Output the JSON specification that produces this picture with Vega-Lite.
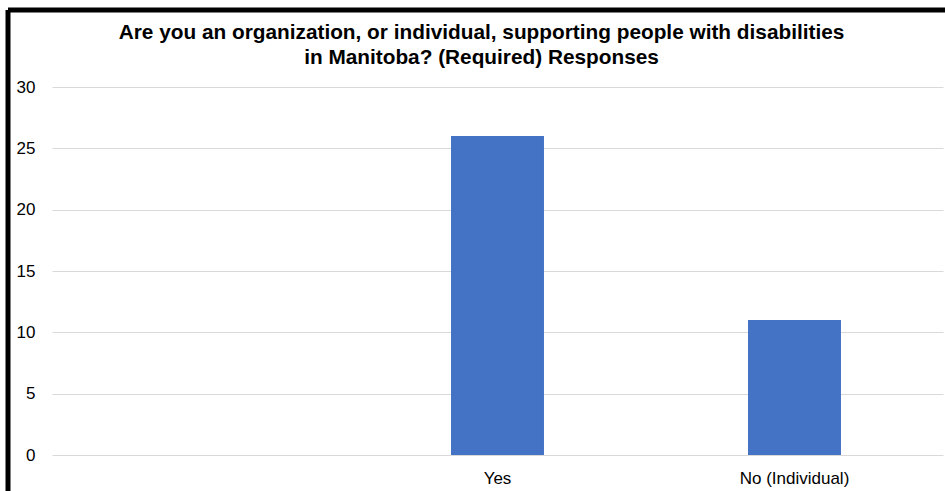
{
  "$schema": "https://vega.github.io/schema/vega-lite/v6.json",
  "width": 937,
  "height": 481,
  "autosize": {"type": "none"},
  "padding": {"left": 8, "top": 10, "right": 0, "bottom": 0},
  "background": "white",
  "title": {
    "text": ["Are you an organization, or individual, supporting people with disabilities", "in Manitoba? (Required) Responses"],
    "font": "Liberation Sans",
    "fontSize": 20.8,
    "fontWeight": "bold",
    "color": "black",
    "lineHeight": 25,
    "anchor": "middle",
    "offset": -59,
    "dx": 5
  },
  "data": {
    "values": [
      {"response": "", "count": 0},
      {"response": "Yes", "count": 26},
      {"response": "No (Individual)", "count": 11}
    ]
  },
  "mark": {"type": "bar", "color": "#4472C4"},
  "encoding": {
    "x": {
      "field": "response",
      "type": "nominal",
      "sort": null,
      "scale": {"range": [44, 935], "paddingInner": 0.687, "paddingOuter": 0.3435},
      "axis": {
        "title": null,
        "labelAngle": 0,
        "domain": false,
        "ticks": false,
        "tickSize": 0,
        "grid": false,
        "labelPadding": -8,
        "labelBaseline": "alphabetic",
        "labelFont": "Liberation Sans",
        "labelFontSize": 17,
        "labelColor": "black"
      }
    },
    "y": {
      "field": "count",
      "type": "quantitative",
      "scale": {"domain": [0, 30], "range": [445, 77], "nice": false},
      "axis": {
        "title": null,
        "values": [0, 5, 10, 15, 20, 25, 30],
        "domain": false,
        "ticks": false,
        "tickSize": 0,
        "labelPadding": -27,
        "labelAlign": "right",
        "labelBaseline": "middle",
        "labelFont": "Liberation Sans",
        "labelFontSize": 17,
        "labelColor": "black",
        "grid": true,
        "gridColor": "#d9d9d9",
        "gridWidth": 1
      }
    }
  },
  "config": {
    "view": {"stroke": "black", "strokeWidth": 5, "strokeDash": [937, 1418, 481, 0]}
  }
}
